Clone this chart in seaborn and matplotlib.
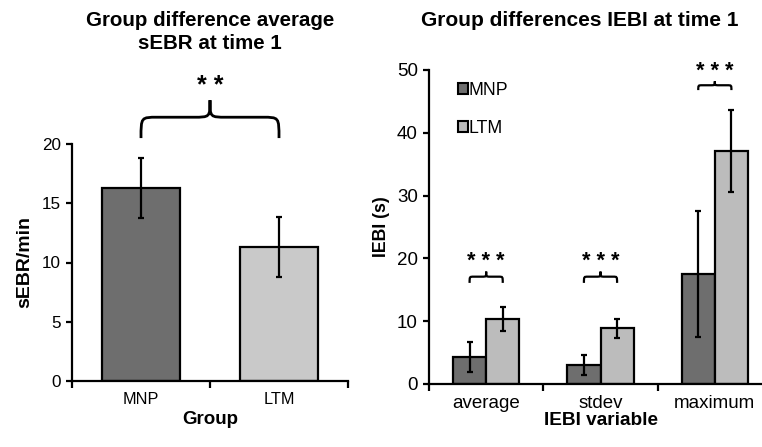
import pandas as pd
import matplotlib.pyplot as plt
import seaborn as sns
from matplotlib.path import Path
from matplotlib.patches import PathPatch

# data
groups = ['MNP', 'LTM']
sebr_mean = [16.3, 11.3]
sebr_err = [2.55, 2.5]

iebi_vars = ['average', 'stdev', 'maximum']
iebi_mnp = [4.3, 3.0, 17.5]
iebi_mnp_err = [2.4, 1.6, 10.0]
iebi_ltm = [10.3, 8.9, 37.1]
iebi_ltm_err = [1.9, 1.5, 6.5]

dark = '#6e6e6e'
light_left = '#c9c9c9'
light_right = '#bcbcbc'

sns.set_style('ticks')
plt.rcParams['font.family'] = ['Liberation Sans', 'DejaVu Sans']
for k in ['text.color', 'axes.labelcolor', 'xtick.color', 'ytick.color']:
    plt.rcParams[k] = 'black'


def brace(ax, x0, x1, y, h, lw=1.6):
    # curly brace: ends down at y, middle peak at y+h
    xm = (x0 + x1) / 2
    d = (x1 - x0) * 0.12
    yc = y + h * 0.55
    verts = [(x0, y), (x0, yc), (x0, yc), (x0 + d, yc),
             (xm - d, yc), (xm, yc), (xm, yc), (xm, y + h),
             (xm, yc), (xm, yc), (xm + d, yc),
             (x1 - d, yc), (x1, yc), (x1, yc), (x1, y)]
    codes = [Path.MOVETO, Path.CURVE4, Path.CURVE4, Path.CURVE4,
             Path.LINETO, Path.CURVE4, Path.CURVE4, Path.CURVE4,
             Path.CURVE4, Path.CURVE4, Path.CURVE4,
             Path.LINETO, Path.CURVE4, Path.CURVE4, Path.CURVE4]
    ax.add_patch(PathPatch(Path(verts, codes), fill=False, lw=lw,
                           color='black', clip_on=False))


def style_axes(ax, ncat):
    sns.despine(ax=ax)
    for s in ['left', 'bottom']:
        ax.spines[s].set_linewidth(1.6)
        ax.spines[s].set_color('black')
    ax.set_xlim(-0.5, ncat - 0.5)
    ax.set_xticks(range(ncat))
    ax.tick_params(axis='x', length=0, pad=8)
    ax.set_xticks([i - 0.5 for i in range(ncat + 1)], minor=True)
    ax.tick_params(axis='x', which='minor', length=5, width=1.6, direction='out')
    ax.tick_params(axis='y', length=4, width=1.6, direction='out', pad=4)


fig = plt.figure(figsize=(7.62, 4.47), dpi=100)

# ---- left panel
ax1 = fig.add_axes([72 / 762, 1 - 381 / 447, 276 / 762, 237 / 447])
df1 = pd.DataFrame({'group': groups, 'sebr': sebr_mean})
sns.barplot(data=df1, x='group', y='sebr', hue='group',
            palette=[dark, light_left], width=0.57, edgecolor='black',
            linewidth=1.6, ax=ax1, legend=False)
ax1.errorbar(range(len(groups)), sebr_mean, yerr=sebr_err, fmt='none',
             ecolor='black', elinewidth=1.6, capsize=2, capthick=1.6)
ax1.set_ylim(0, 20)
ax1.set_yticks([0, 5, 10, 15, 20])
style_axes(ax1, 2)
ax1.tick_params(axis='x', labelsize=11.7)
ax1.tick_params(axis='y', labelsize=12.3)
ax1.set_xlabel('Group', fontsize=13.5, fontweight='bold', labelpad=3)
ax1.set_ylabel('sEBR/min', fontsize=14, fontweight='bold', labelpad=6)
brace(ax1, 0, 1, 20.5, 3.2, lw=2)
ax1.text(0.5, 24.9, '* *', ha='center', va='center', fontsize=18, fontweight='bold')
fig.text(210 / 762, 1 - 32 / 447, 'Group difference average\nsEBR at time 1',
         ha='center', va='center', fontsize=14.8, fontweight='bold', linespacing=1.3)

# ---- right panel
ax2 = fig.add_axes([429 / 762, 1 - 384 / 447, 343 / 762, 314 / 447])
df2 = pd.DataFrame({
    'var': iebi_vars * 2,
    'group': ['MNP'] * 3 + ['LTM'] * 3,
    'val': iebi_mnp + iebi_ltm,
})
sns.barplot(data=df2, x='var', y='val', hue='group',
            palette=[dark, light_right], width=0.58, edgecolor='black',
            linewidth=1.6, ax=ax2)
for cont, err in zip(ax2.containers, [iebi_mnp_err, iebi_ltm_err]):
    xs = [p.get_x() + p.get_width() / 2 for p in cont.patches]
    ys = [p.get_height() for p in cont.patches]
    ax2.errorbar(xs, ys, yerr=err, fmt='none', ecolor='black',
                 elinewidth=1.6, capsize=2, capthick=1.6)
ax2.set_ylim(0, 50)
ax2.set_yticks(range(0, 51, 10))
style_axes(ax2, 3)
ax2.tick_params(labelsize=13.5)
ax2.set_xlabel('IEBI variable', fontsize=13.7, fontweight='bold', labelpad=0)
ax2.set_ylabel('IEBI (s)', fontsize=12.8, fontweight='bold', labelpad=5)

brace_y = [16.1, 16.1, 46.8]
for i, by in enumerate(brace_y):
    h = 1.8 if i < 2 else 1.4
    brace(ax2, i - 0.145, i + 0.145, by, h, lw=1.6)
    ax2.text(i, by + h + 1.6, '* * *', ha='center', va='center',
             fontsize=15.5, fontweight='bold')

leg = ax2.legend(loc='upper left', bbox_to_anchor=(0.065, 0.985), frameon=False,
                 fontsize=12.7, handlelength=0.55, handleheight=0.55,
                 handletextpad=0.05, labelspacing=1.2, borderaxespad=0)
for hnd in leg.legend_handles:
    hnd.set_edgecolor('black')
    hnd.set_linewidth(1.5)

fig.text(580 / 762, 1 - 20 / 447, 'Group differences IEBI at time 1',
         ha='center', va='center', fontsize=15, fontweight='bold')

fig.savefig('out.png', dpi=100)
